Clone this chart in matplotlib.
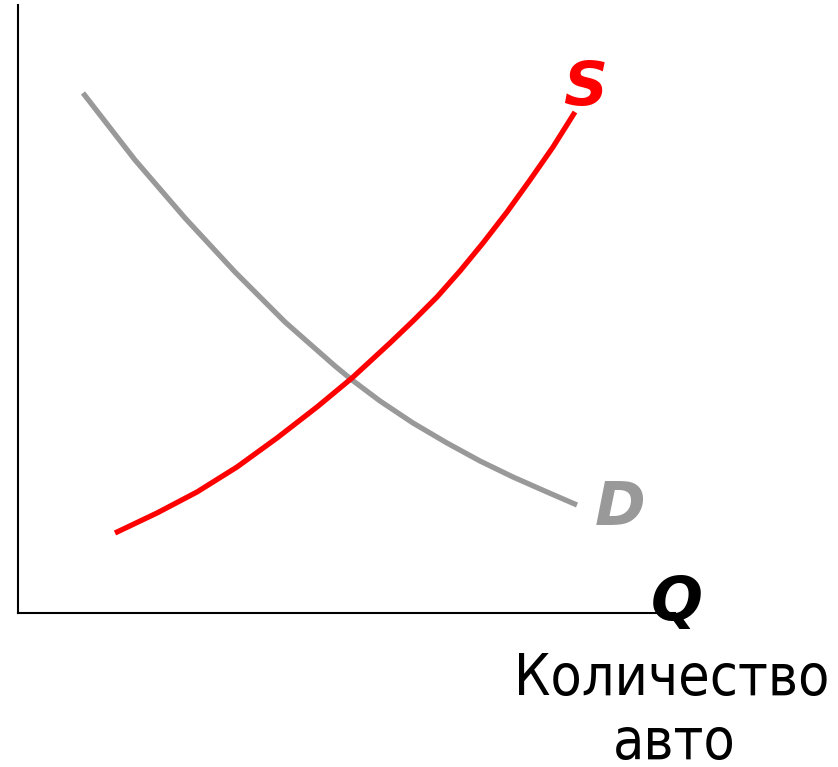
import matplotlib
matplotlib.use("Agg")
import matplotlib.pyplot as plt

# demand curve D (axis units)
d_q = [6.5, 11.7, 16.7, 21.7, 26.7, 31.7, 33.4, 36.2, 39.5, 42.9, 46.2, 49.5, 52.9, 55.9]
d_p = [52.0, 45.3, 39.5, 34.1, 29.1, 24.7, 23.3, 21.2, 19.0, 17.0, 15.2, 13.6, 12.1, 10.8]

# supply curve S
s_q = [9.7, 13.9, 17.9, 21.9, 25.9, 29.9, 33.4, 37.2, 39.5, 41.9, 44.2, 46.5,
       48.9, 51.2, 53.5, 55.7]
s_p = [8.0, 10.0, 12.1, 14.6, 17.5, 20.6, 23.5, 27.0, 29.2, 31.6, 34.2, 37.0,
       40.1, 43.3, 46.6, 50.1]

RED = "#ff0000"
GRAY = "#999999"

fig = plt.figure(figsize=(8.38, 7.67), dpi=100)
ax = fig.add_axes([18 / 838, 154 / 767, 657 / 838, 608 / 767])
ax.set_xlim(0, 65.7)
ax.set_ylim(0, 60.8)

ax.plot(d_q, d_p, color=GRAY, lw=3.8, solid_joinstyle="round", solid_capstyle="butt")
ax.plot(s_q, s_p, color=RED, lw=3.8, solid_joinstyle="round", solid_capstyle="butt")

# only the left/bottom spines as axes
for side in ("top", "right"):
    ax.spines[side].set_visible(False)
for side in ("left", "bottom"):
    ax.spines[side].set_linewidth(1.5)
ax.set_xticks([]); ax.set_yticks([])

lbl = dict(fontsize=44, fontweight="bold", fontstyle="italic",
           ha="center", va="baseline", clip_on=False)
ax.text(56.7, 50.8, "S", color=RED, **lbl)
ax.text(60.2, 8.8, "D", color=GRAY, **lbl)
ax.text(65.9, -0.7, "Q", color="black", **lbl)

cap = dict(fontsize=41, fontstretch="condensed",
           ha="center", va="baseline", clip_on=False)
ax.text(65.4, -8.2, "Количество", **cap)
ax.text(65.6, -14.6, "авто", **cap)

fig.savefig("out.png", dpi=100)
